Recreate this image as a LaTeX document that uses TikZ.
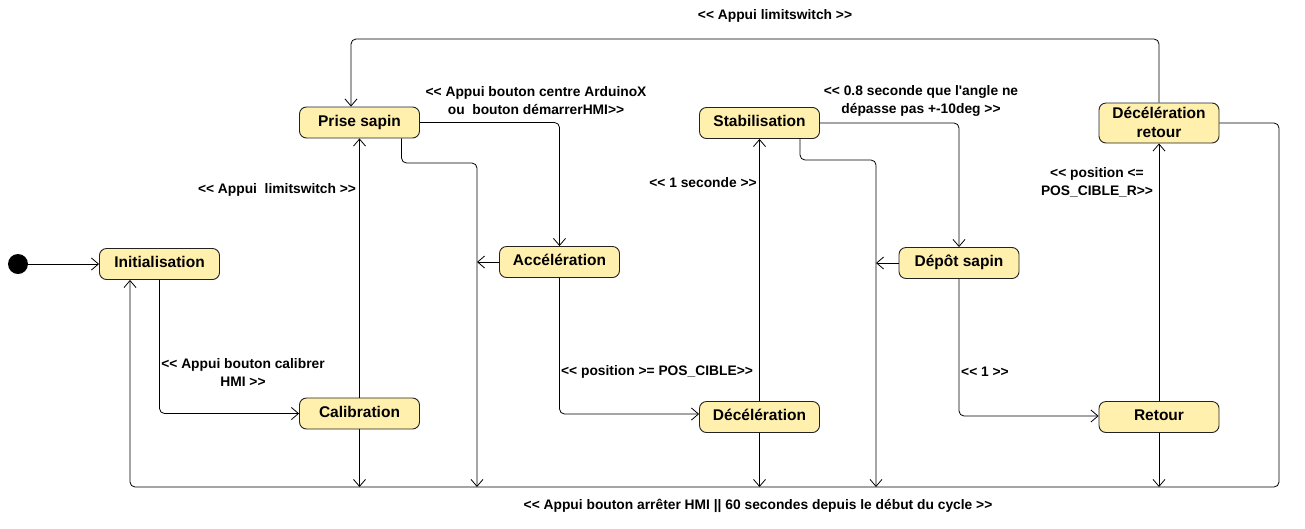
\documentclass[tikz,border=0pt]{standalone}
\usepackage{fontspec}
\setmainfont{Liberation Sans}
\usetikzlibrary{arrows.meta}
\definecolor{stfill}{HTML}{FFF0AD}
\definecolor{stdraw}{HTML}{222222}
\newcommand{\opn}{<\kern0pt<}
\newcommand{\cls}{>\kern0pt>}
\begin{document}
\begin{tikzpicture}[x=1pt,y=-1pt,
  state/.style={draw=stdraw, fill=stfill, rounded corners=7pt, line width=0.9pt,
    minimum width=120pt, minimum height=31pt, inner sep=0pt, align=center,
    font=\fontsize{15.5}{19}\selectfont\bfseries},
  single/.style={text height=11.5pt, text depth=4pt},
  lbl/.style={font=\fontsize{13.8}{18}\selectfont\bfseries, align=center, inner sep=0pt},
  tr/.style={draw=black, line width=0.8pt, rounded corners=5pt,
    -{Straight Barb[length=7pt,width=12pt,line width=0.8pt]}}]
\useasboundingbox (0,0) rectangle (1305,528);

% states
\node[circle, fill=black, minimum size=20pt, inner sep=0pt] (init) at (18,264) {};
\node[state,single] (ini)   at (159.5,264) {Initialisation};
\node[state,single] (prise) at (359.5,122.5) {Prise sapin};
\node[state,single] (calib) at (359.5,413.5) {Calibration};
\node[state,single] (acc)   at (559.5,262)   {Accélération};
\node[state,single] (dec)   at (759.5,417)   {Décélération};
\node[state,single] (stab)  at (759.5,123)   {Stabilisation};
\node[state,single] (depot) at (959,263)     {Dépôt sapin};
\node[state, minimum height=40pt] (decr) at (1159,123) {\raisebox{1.5pt}{Décélération}\\\raisebox{1.5pt}{retour}};
\node[state,single] (ret)   at (1159,417)    {Retour};

% helper coordinates
\coordinate (b1) at (359.5,487);
\coordinate (j1) at (477,163);
\coordinate (b2) at (477,487);
\coordinate (b3) at (759.5,487);
\coordinate (j2) at (876,160);
\coordinate (b4) at (876,487);
\coordinate (b5) at (1159,487);
\coordinate (t1) at (351,39);
\coordinate (r1) at (1279,487);

% transitions
\draw[tr] (init) -- (init -| ini.west);
\draw[tr] (ini.south) |- (calib.west);
\draw[tr] (calib) -- (prise);
\draw[tr] (calib.south) -- (b1);
\draw[tr] (prise.east) -| (acc.north);
\draw[tr] ([xshift=42pt]prise.south) |- (j1) -- (b2);
\draw[tr] (acc.west) -- (acc.west -| b2);
\draw[tr] (acc.south) |- ([yshift=3pt]dec.west);
\draw[tr] (dec) -- (stab);
\draw[tr] (dec.south) -- (b3);
\draw[tr] (stab.east) -| (depot.north);
\draw[tr] ([xshift=40.5pt]stab.south) |- (j2) -- (b4);
\draw[tr] (depot.west) -- (depot.west -| b4);
\draw[tr] (depot.south) |- ([yshift=1pt]ret.west);
\draw[tr] (ret) -- (decr);
\draw[tr] (ret.south) -- (b5);
\draw[tr] (decr.north) |- (t1) -- ([xshift=-8.5pt]prise.north);
\draw[tr] (decr.east) -| (r1) -| ([xshift=-29.5pt]ini.south);

% labels
\node[lbl] (l1) at (775,16) {\opn{} Appui limitswitch \cls};
\node[lbl] (l2) at (536,101) {\opn{} Appui bouton centre ArduinoX\\ou~ bouton démarrerHMI\cls};
\node[lbl] (l3) at (921,101) {\opn{} 0.8 seconde que l\textquotesingle angle ne\\dépasse pas +-10deg \cls};
\node[lbl] (l4) at (277,190) {\opn{} Appui~ limitswitch \cls};
\node[lbl] (l5) at (703,183) {\opn{} 1 seconde \cls};
\node[lbl] (l6) at (1097,182) {\opn{} position <=\\POS\_CIBLE\_R\cls};
\node[lbl] (l7) at (243,372) {\opn{} Appui bouton calibrer\\HMI \cls};
\node[lbl] (l8) at (657,372) {\opn{} position >= POS\_CIBLE\cls};
\node[lbl] (l9) at (985,372) {\opn{} 1 \cls};
\node[lbl] (l10) at (758,506) {\opn{} Appui bouton arrêter HMI || 60 secondes depuis le début du cycle \cls};
\end{tikzpicture}
\end{document}
